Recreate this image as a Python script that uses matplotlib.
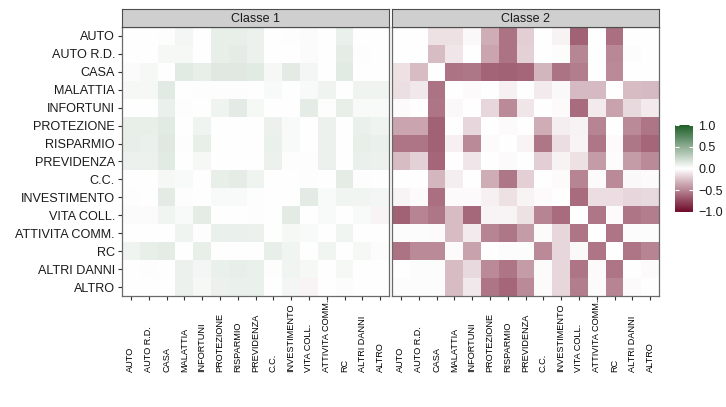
import numpy as np
import matplotlib
matplotlib.use("Agg")
import matplotlib.pyplot as plt
from matplotlib import font_manager
from matplotlib.colors import LinearSegmentedColormap
from matplotlib.transforms import blended_transform_factory

plt.rcParams['font.family'] = ['Liberation Sans', 'DejaVu Sans']

categories = ["AUTO", "AUTO R.D.", "CASA", "MALATTIA", "INFORTUNI", "PROTEZIONE",
              "RISPARMIO", "PREVIDENZA", "C.C.", "INVESTIMENTO", "VITA COLL.",
              "ATTIVITA COMM.", "RC", "ALTRI DANNI", "ALTRO"]

panels = ["Classe 1", "Classe 2"]

# correlation matrices, rows/cols in the order of categories
classe1 = [
    [0, 0, 0.01, 0.05, 0, 0.10, 0.10, 0.08, 0, 0.01, 0.02, 0, 0.09, 0, 0],
    [0, 0, 0.04, 0.04, 0, 0.10, 0.11, 0.08, 0, 0, 0.02, 0, 0.11, 0.01, 0],
    [0.02, 0.04, 0, 0.13, 0.10, 0.14, 0.14, 0.13, 0.04, 0.12, 0.05, 0, 0.13, 0, 0],
    [0.04, 0.04, 0.13, 0, 0.01, 0.01, 0.01, 0, 0.03, 0, 0.03, 0.07, 0, 0.07, 0.07],
    [0, 0, 0.09, 0.01, 0, 0.07, 0.12, 0.04, 0, 0, 0.11, 0.01, 0.10, 0.03, 0.03],
    [0.10, 0.10, 0.13, 0, 0.07, 0, 0, 0, 0.08, 0.03, 0, 0.08, 0, 0.09, 0.07],
    [0.10, 0.09, 0.14, 0.01, 0.10, 0, 0, 0, 0.09, 0.03, 0, 0.08, 0, 0.10, 0.09],
    [0.08, 0.08, 0.13, 0, 0.04, 0, 0, 0, 0.08, 0.01, 0.01, 0.08, 0, 0.09, 0.08],
    [0, 0, 0.04, 0.03, 0, 0.10, 0.11, 0.07, 0, 0, 0.01, 0, 0.11, 0.01, 0],
    [0.01, 0, 0.12, 0.01, 0, 0.03, 0.03, 0.01, 0, 0, 0.12, 0.03, 0.06, 0.06, 0.05],
    [0.02, 0.02, 0.06, 0.03, 0.11, 0, 0, 0.01, 0, 0.12, 0, 0.03, 0, 0.03, -0.04],
    [0, 0, 0, 0.07, 0.01, 0.09, 0.09, 0.08, 0, 0.04, 0.03, 0, 0.06, 0, 0],
    [0.07, 0.10, 0.11, 0, 0.10, 0, 0, 0, 0.10, 0.06, 0, 0.06, 0, 0.04, -0.01],
    [0, 0.01, 0, 0.08, 0.05, 0.09, 0.10, 0.09, 0.01, 0.06, 0.04, 0, 0.04, 0, 0],
    [0, 0, 0, 0.08, 0.04, 0.08, 0.09, 0.09, 0, 0.05, -0.04, 0, -0.01, 0, 0],
]

classe2 = [
    [0, 0, -0.12, -0.12, -0.03, -0.33, -0.57, -0.20, 0, -0.05, -0.64, 0, -0.58, 0, 0],
    [0, 0, -0.27, -0.10, 0, -0.36, -0.57, -0.18, 0, -0.01, -0.49, 0, -0.48, -0.01, 0],
    [-0.12, -0.27, 0, -0.57, -0.55, -0.63, -0.64, -0.62, -0.30, -0.57, -0.53, 0, -0.47, 0, 0],
    [-0.13, -0.09, -0.57, 0, -0.02, 0, -0.06, 0, -0.08, -0.03, -0.28, -0.28, 0, -0.27, -0.28],
    [-0.02, 0, -0.56, -0.03, 0, -0.16, -0.47, -0.10, 0, -0.02, -0.60, -0.08, -0.37, -0.15, -0.08],
    [-0.36, -0.36, -0.64, 0, -0.16, 0, -0.02, 0, -0.33, -0.07, -0.05, -0.50, 0, -0.47, -0.56],
    [-0.56, -0.56, -0.64, -0.06, -0.47, -0.02, 0, -0.04, -0.55, -0.14, -0.04, -0.55, -0.02, -0.55, -0.62],
    [-0.27, -0.18, -0.62, 0, -0.10, 0, -0.02, 0, -0.20, -0.05, -0.12, -0.40, -0.01, -0.40, -0.47],
    [0, 0, -0.29, -0.07, 0, -0.33, -0.55, -0.19, 0, -0.02, -0.50, -0.02, -0.47, -0.03, -0.02],
    [-0.04, -0.02, -0.58, -0.02, -0.02, -0.06, -0.12, -0.04, -0.02, 0, -0.60, -0.14, -0.14, -0.16, -0.15],
    [-0.64, -0.50, -0.55, -0.27, -0.61, -0.04, -0.04, -0.12, -0.50, -0.60, 0, -0.55, -0.02, -0.56, -0.53],
    [-0.01, -0.01, -0.02, -0.27, -0.08, -0.50, -0.55, -0.40, -0.02, -0.16, -0.56, 0, -0.56, -0.01, -0.01],
    [-0.57, -0.47, -0.47, -0.02, -0.37, 0, -0.01, -0.01, -0.47, -0.16, -0.03, -0.56, 0, -0.56, -0.50],
    [0, -0.01, -0.01, -0.27, -0.15, -0.47, -0.56, -0.40, -0.02, -0.16, -0.56, -0.02, -0.56, 0, -0.02],
    [-0.01, -0.01, -0.01, -0.27, -0.09, -0.56, -0.62, -0.47, -0.02, -0.16, -0.53, -0.02, -0.50, -0.02, 0],
]

cbar_ticks = [-1.0, -0.5, 0.0, 0.5, 1.0]

W, H = 726, 407
cmap = LinearSegmentedColormap.from_list("redgreen", ["#6e0a28", "#ffffff", "#1e5e28"])
text_col = "#1a1a1a"

# vertical labels: narrow face if available, else a smaller regular face
try:
    font_manager.findfont(font_manager.FontProperties(family="Liberation Sans Narrow"),
                          fallback_to_default=False)
    xlab_family, xlab_size = ["Liberation Sans Narrow"], 7.6
except ValueError:
    xlab_family, xlab_size = ["Liberation Sans", "DejaVu Sans"], 6.6

fig = plt.figure(figsize=(W / 100, H / 100), dpi=100)


def box(x0, y0, x1, y1):
    # pixel box (top-left origin) -> figure fraction rect
    return [x0 / W, 1 - y1 / H, (x1 - x0) / W, (y1 - y0) / H]


n = len(categories)
idx = np.arange(n)
lefts = [122, 392]
im = None
for k, (name, data) in enumerate(zip(panels, [classe1, classe2])):
    x0 = lefts[k]
    ax = fig.add_axes(box(x0, 27, x0 + 267, 296))
    im = ax.imshow(np.array(data), cmap=cmap, vmin=-1, vmax=1, aspect="auto",
                   interpolation="nearest", extent=(-0.5, n - 0.5, n - 0.5, -0.5))
    ax.set_xlim(-0.5, n - 0.5)
    ax.set_ylim(n - 0.5, -0.5)
    for s in ax.spines.values():
        s.set_color("#6a6a6a")
        s.set_linewidth(0.9)
    ax.set_xticks(idx)
    ax.set_xticklabels([])
    ax.set_yticks(idx)
    ax.tick_params(axis="both", length=3, width=0.8, color="#333333", direction="out")
    if k == 0:
        ax.set_yticklabels(categories, fontsize=9.1, color=text_col)
        ax.tick_params(axis="y", pad=2)
    else:
        ax.set_yticklabels([])
        ax.tick_params(axis="y", left=False)

    # rotated category labels under each panel, start of text aligned at the bottom
    tr = blended_transform_factory(ax.transData, fig.transFigure)
    for i, lab in enumerate(categories):
        ax.text(i, 1 - 372 / H, lab, transform=tr, rotation=90, ha="center",
                va="bottom", fontsize=xlab_size, family=xlab_family, color="#000000")

    # facet strip
    sax = fig.add_axes(box(x0, 9, x0 + 267, 27))
    sax.set_facecolor("#cfcfcf")
    sax.set_xticks([])
    sax.set_yticks([])
    for s in sax.spines.values():
        s.set_color("#4d4d4d")
        s.set_linewidth(0.8)
    sax.text(0.5, 0.45, name, ha="center", va="center", fontsize=9, color=text_col,
             transform=sax.transAxes)

# colour bar
cax = fig.add_axes(box(675, 125, 693, 212))
cb = fig.colorbar(im, cax=cax, ticks=cbar_ticks)
cb.outline.set_visible(False)
cb.ax.tick_params(length=0, pad=4, labelsize=9, labelcolor=text_col)
cb.ax.set_yticklabels([f"{t:.1f}".replace("-", "\u2212") for t in cbar_ticks])
cax.hlines(cbar_ticks, 0, 0.2, transform=cax.get_yaxis_transform(), color="white", lw=0.8)
cax.hlines(cbar_ticks, 0.8, 1.0, transform=cax.get_yaxis_transform(), color="white", lw=0.8)

fig.savefig("out.png", dpi=100)
